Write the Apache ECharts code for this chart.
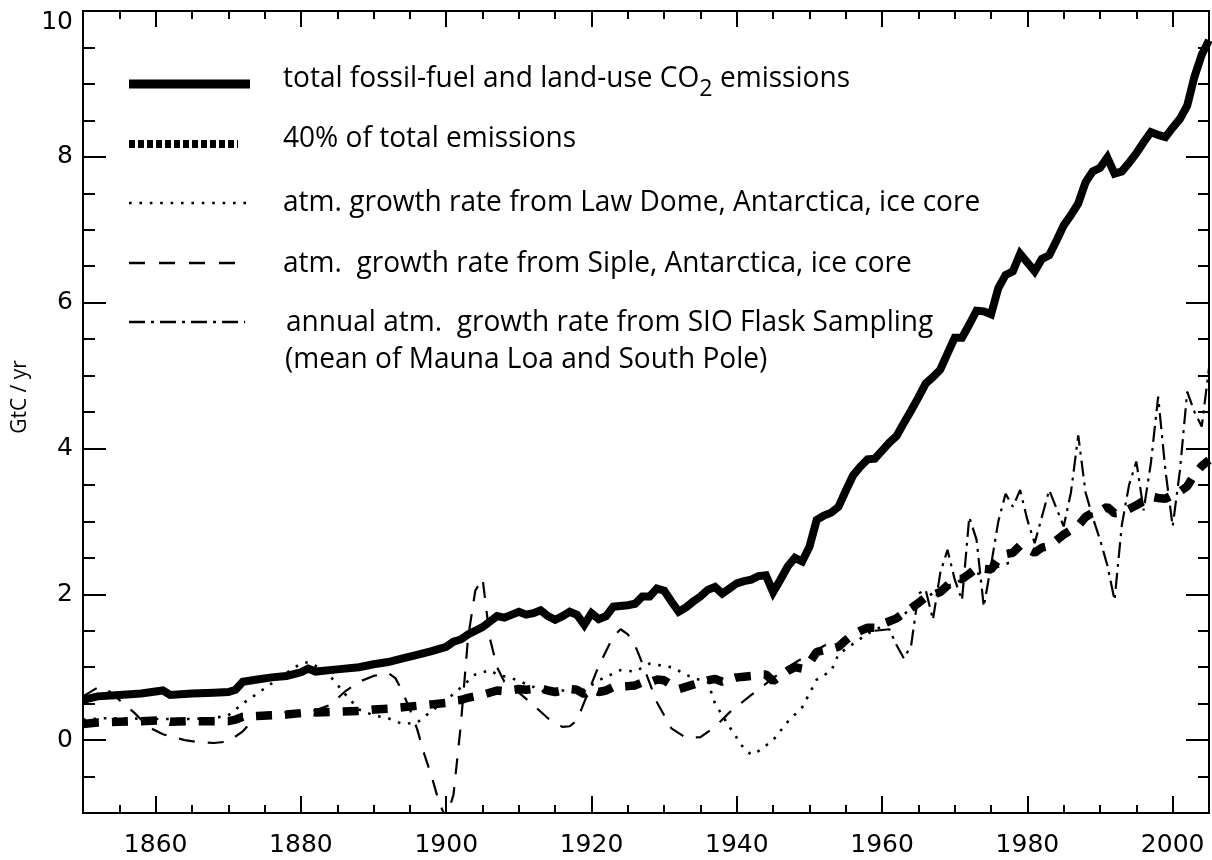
<!DOCTYPE html>
<html>
<head>
<meta charset="utf-8">
<script src="https://cdn.jsdelivr.net/npm/echarts@6/dist/echarts.min.js"></script>
<style>
  html, body { margin: 0; padding: 0; background: #fff; }
  #chart { width: 1212px; height: 860px; }
</style>
</head>
<body>
<div id="chart"></div>
<script>
// ---- Data (GtC / yr) ----
const totalYears = [1850,1852,1855,1858,1861,1862,1865,1868,1870,1871,1872,1874,1876,1878,1880,1881,1882,1885,1888,1890,1892,1894,1896,1898,1900,1901,1902,1903,1905,1907,1908,1910,1911,1912,1913,1914,1915,1916,1917,1918,1919,1920,1921,1922,1923,1925,1926,1927,1928,1929,1930,1931,1932,1933,1934,1935,1936,1937,1938,1939,1940,1941,1942,1943,1944,1945,1946,1947,1948,1949,1950,1951,1952,1953,1954,1955,1956,1957,1958,1959,1960,1961,1962,1963,1964,1965,1966,1967,1968,1969,1970,1971,1972,1973,1974,1975,1976,1977,1978,1979,1980,1981,1982,1983,1984,1985,1986,1987,1988,1989,1990,1991,1992,1993,1994,1995,1996,1997,1998,1999,2000,2001,2002,2003,2004,2005];
const totalValues = [0.55,0.60,0.62,0.64,0.68,0.62,0.64,0.65,0.66,0.69,0.80,0.83,0.86,0.88,0.93,0.98,0.94,0.97,1.00,1.04,1.07,1.12,1.17,1.22,1.28,1.35,1.38,1.45,1.55,1.70,1.68,1.76,1.72,1.74,1.78,1.70,1.65,1.70,1.76,1.72,1.58,1.74,1.66,1.70,1.83,1.85,1.87,1.97,1.97,2.08,2.05,1.90,1.76,1.82,1.90,1.97,2.06,2.10,2.01,2.08,2.15,2.18,2.20,2.25,2.26,2.03,2.20,2.38,2.50,2.45,2.65,3.02,3.08,3.12,3.20,3.42,3.63,3.75,3.85,3.86,3.97,4.08,4.17,4.35,4.52,4.70,4.89,4.98,5.08,5.30,5.52,5.52,5.70,5.89,5.88,5.84,6.20,6.38,6.43,6.67,6.55,6.43,6.60,6.65,6.85,7.06,7.20,7.36,7.65,7.80,7.85,7.99,7.77,7.80,7.92,8.05,8.20,8.34,8.30,8.27,8.40,8.52,8.70,9.10,9.40,9.60];

const fortyPctValues = [0.22,0.24,0.25,0.26,0.27,0.25,0.26,0.26,0.26,0.28,0.32,0.33,0.34,0.35,0.37,0.39,0.38,0.39,0.40,0.42,0.43,0.45,0.47,0.49,0.51,0.54,0.55,0.58,0.62,0.68,0.67,0.70,0.69,0.70,0.71,0.68,0.66,0.68,0.70,0.69,0.63,0.70,0.66,0.68,0.73,0.74,0.75,0.79,0.79,0.83,0.82,0.76,0.70,0.73,0.76,0.79,0.82,0.84,0.80,0.83,0.86,0.87,0.88,0.90,0.90,0.81,0.88,0.95,1.00,0.98,1.06,1.21,1.23,1.25,1.28,1.37,1.45,1.50,1.54,1.54,1.59,1.63,1.67,1.74,1.81,1.88,1.96,1.99,2.03,2.12,2.21,2.21,2.28,2.36,2.35,2.34,2.48,2.55,2.57,2.67,2.62,2.57,2.64,2.66,2.74,2.82,2.88,2.94,3.06,3.12,3.14,3.20,3.11,3.12,3.17,3.22,3.28,3.34,3.32,3.31,3.36,3.41,3.48,3.64,3.76,3.84];

const lawDomeYears = [1850,1853,1856,1859,1862,1865,1868,1870,1872,1874,1876,1878,1880,1881,1882,1884,1886,1888,1890,1892,1894,1896,1898,1900,1902,1904,1906,1907,1909,1912,1914,1916,1919,1921,1924,1926,1928,1931,1934,1936,1937,1939,1941,1942,1943,1945,1947,1949,1950,1951,1953,1954,1956,1958,1960,1962,1964,1966,1968,1970,1972,1974,1976,1978];
const lawDomeValues = [0.28,0.30,0.30,0.29,0.29,0.29,0.30,0.34,0.50,0.64,0.78,0.92,1.05,1.07,1.02,0.88,0.64,0.42,0.34,0.30,0.22,0.24,0.40,0.55,0.72,0.90,0.96,0.90,0.85,0.73,0.64,0.68,0.69,0.82,0.96,0.94,1.05,1.00,0.85,0.80,0.50,0.18,-0.12,-0.20,-0.15,0.00,0.25,0.45,0.64,0.83,0.95,1.18,1.32,1.46,1.56,1.65,1.80,1.95,2.08,2.15,2.25,2.30,2.38,2.45];

const sipleYears = [1850,1852,1853,1855,1857,1859,1861,1864,1866,1868,1870,1872,1873,1875,1877,1879,1882,1884,1886,1888,1890,1892,1893,1894,1895,1896,1897,1898,1899,1900,1901,1902,1903,1904,1905,1906,1907,1908,1910,1912,1914,1916,1917,1918,1919,1921,1923,1924,1925,1926,1927,1929,1931,1933,1935,1937,1939,1942,1945,1947,1950,1953];
const sipleValues = [0.60,0.72,0.72,0.55,0.38,0.18,0.08,0.00,-0.03,-0.04,-0.02,0.12,0.23,0.37,0.39,0.37,0.41,0.48,0.66,0.80,0.88,0.92,0.85,0.66,0.42,0.15,-0.20,-0.50,-0.85,-1.08,-0.75,0.20,1.40,2.05,2.22,1.40,1.00,0.80,0.65,0.48,0.30,0.18,0.19,0.27,0.52,1.02,1.42,1.52,1.45,1.30,1.05,0.52,0.16,0.03,0.04,0.18,0.38,0.62,0.85,1.00,1.18,1.35];

const sioYears = [1959,1961,1962,1963,1964,1965,1966,1967,1968,1969,1970,1971,1972,1973,1974,1975,1976,1977,1978,1979,1980,1981,1983,1985,1986,1987,1988,1989,1990,1991,1992,1993,1994,1995,1996,1997,1998,1999,2000,2001,2002,2003,2004,2005];
const sioValues = [1.50,1.52,1.30,1.12,1.30,2.01,2.06,1.65,2.29,2.61,2.20,1.92,3.06,2.75,1.83,2.40,3.00,3.38,3.20,3.43,3.02,2.70,3.43,2.93,3.40,4.18,3.40,3.05,2.75,2.40,1.92,2.95,3.50,3.82,3.15,3.80,4.71,3.70,2.93,3.70,4.78,4.50,4.30,5.10];

const xTickLabels = [1860, 1880, 1900, 1920, 1940, 1960, 1980, 2000];
const yTickLabels = [0, 2, 4, 6, 8, 10];

const legendNames = [
  'total fossil-fuel and land-use CO2 emissions',
  '40% of total emissions',
  'atm. growth rate from Law Dome, Antarctica, ice core',
  'atm.  growth rate from Siple, Antarctica, ice core',
  'annual atm.  growth rate from SIO Flask Sampling',
  '(mean of Mauna Loa and South Pole)'
];
const yAxisTitle = 'GtC / yr';

// ---- Helpers ----
const pairs = (xs, ys) => xs.map((x, i) => [x, ys[i]]);
const xMinor = [];
for (let y = 1855; y <= 2005; y += 5) if (xTickLabels.indexOf(y) < 0) xMinor.push(y);
const yMinor = [];
for (let v = -0.5; v < 10; v += 0.5) if (yTickLabels.indexOf(v) < 0) yMinor.push(v);

const BLACK = '#000';
const TICK_FONT = 'DejaVu Sans';
const TEXT_FONT = 'Open Sans';

function xAxisDef(position, values, len, labels) {
  return {
    type: 'value', position, min: 1850, max: 2005,
    axisLine: { show: true, onZero: false, lineStyle: { color: BLACK, width: 2 } },
    axisTick: { show: true, inside: true, length: len, customValues: values, lineStyle: { color: BLACK, width: 2 } },
    axisLabel: labels ? {
      show: true, customValues: values, margin: 20, color: BLACK,
      fontFamily: TICK_FONT, fontSize: 25, formatter: v => String(v)
    } : { show: false },
    splitLine: { show: false }
  };
}
function yAxisDef(position, values, len, labels, name) {
  const def = {
    type: 'value', position, min: -1, max: 10,
    axisLine: { show: true, onZero: false, lineStyle: { color: BLACK, width: 2 } },
    axisTick: { show: true, inside: true, length: len, customValues: values, lineStyle: { color: BLACK, width: 2 } },
    axisLabel: labels ? {
      show: true, customValues: values, margin: 10, color: BLACK,
      fontFamily: TICK_FONT, fontSize: 25,
      // the topmost label sits a little below its tick so it stays inside the page
      formatter: v => (Number(v) === 10 ? '{top|' + v + '}' : String(v)),
      rich: { top: { fontFamily: TICK_FONT, fontSize: 25, color: BLACK, padding: [22, 0, 0, 0] } }
    } : { show: false },
    splitLine: { show: false }
  };
  if (name) {
    Object.assign(def, {
      name: name, nameLocation: 'middle', nameRotate: 90, nameGap: 44,
      nameTextStyle: { fontFamily: TEXT_FONT, fontSize: 21, color: BLACK, padding: [0, 0, 0, 30] }
    });
  }
  return def;
}

// ---- Legend (drawn with graphic elements) ----
const mctx = document.createElement('canvas').getContext('2d');
function measure(t, size) { mctx.font = size + 'px "' + TEXT_FONT + '"'; return mctx.measureText(t).width; }
const FS = 29, SUB_FS = 24;
const coPart = 'total fossil-fuel and land-use CO', subPart = '2', emPart = ' emissions';
const wCo = measure(coPart, FS), wSub = measure(subPart, SUB_FS), wEm = measure(emPart, FS);
const sx = 567 / (wCo + wSub + wEm);
const textLeft = 283;

function textStyle(str, size, align) {
  return { text: str, x: 0, y: 0, fontSize: size, fontFamily: TEXT_FONT, fill: BLACK,
    align: align, verticalAlign: 'middle', textAlign: align, textVerticalAlign: 'middle' };
}
function legendText(str, x, midY, size) {
  return { type: 'text', x: x, y: midY, scaleX: sx, scaleY: 1, silent: true, style: textStyle(str, size, 'left') };
}
function legendLine(y, x2, width, dash) {
  return { type: 'line', silent: true, shape: { x1: 129, y1: y, x2: x2, y2: y },
    style: { stroke: BLACK, lineWidth: width, lineDash: dash || null, lineCap: 'butt' } };
}

const graphics = [
  legendLine(84, 250, 9, null),
  legendText(coPart, textLeft, 79, FS),
  legendText(subPart, textLeft + wCo * sx, 89, SUB_FS),
  legendText(emPart, textLeft + (wCo + wSub) * sx, 79, FS),
  legendLine(144, 238, 8, [6, 3]),
  legendText(legendNames[1], textLeft, 139, FS),
  legendLine(203, 250, 2.6, [2.6, 7.8]),
  legendText(legendNames[2], textLeft, 203, FS),
  legendLine(263, 236, 2.4, [16, 14]),
  legendText(legendNames[3], textLeft, 264, FS),
  legendLine(322, 245, 2.4, [16, 6, 3, 6]),
  legendText(legendNames[4], textLeft + 3, 323, FS),
  legendText(legendNames[5], textLeft + 2, 360, FS)
];

// ---- Chart ----
const chart = echarts.init(document.getElementById('chart'), null, { renderer: 'canvas' });
chart.setOption({
  animation: false,
  backgroundColor: '#fff',
  grid: { left: 83, right: 3, top: 11, bottom: 47, containLabel: false, outerBoundsMode: 'none' },
  xAxis: [
    xAxisDef('bottom', xTickLabels, 17, true),
    xAxisDef('bottom', xMinor, 8, false),
    xAxisDef('top', xTickLabels, 16, false),
    xAxisDef('top', xMinor, 8, false)
  ],
  yAxis: [
    yAxisDef('left', yTickLabels, 23, true, yAxisTitle),
    yAxisDef('left', yMinor, 12, false),
    yAxisDef('right', yTickLabels, 23, false),
    yAxisDef('right', yMinor, 11, false)
  ],
  series: [
    { type: 'line', name: legendNames[0], data: pairs(totalYears, totalValues), symbol: 'none', clip: true, z: 5,
      lineStyle: { color: BLACK, width: 8, join: 'miter' } },
    { type: 'line', name: legendNames[1], data: pairs(totalYears, fortyPctValues), symbol: 'none', clip: true, z: 4,
      lineStyle: { color: BLACK, width: 8.5, type: [16, 13] } },
    { type: 'line', name: legendNames[2], data: pairs(lawDomeYears, lawDomeValues), symbol: 'none', clip: true, z: 3,
      lineStyle: { color: BLACK, width: 2.6, type: [2.6, 7.8] } },
    { type: 'line', name: legendNames[3], data: pairs(sipleYears, sipleValues), symbol: 'none', clip: true, z: 3,
      lineStyle: { color: BLACK, width: 2.2, type: [16, 13] } },
    { type: 'line', name: legendNames[4], data: pairs(sioYears, sioValues), symbol: 'none', clip: true, z: 3,
      lineStyle: { color: BLACK, width: 2.2, type: [16, 6, 3, 6] } }
  ],
  graphic: graphics
});
</script>
</body>
</html>
